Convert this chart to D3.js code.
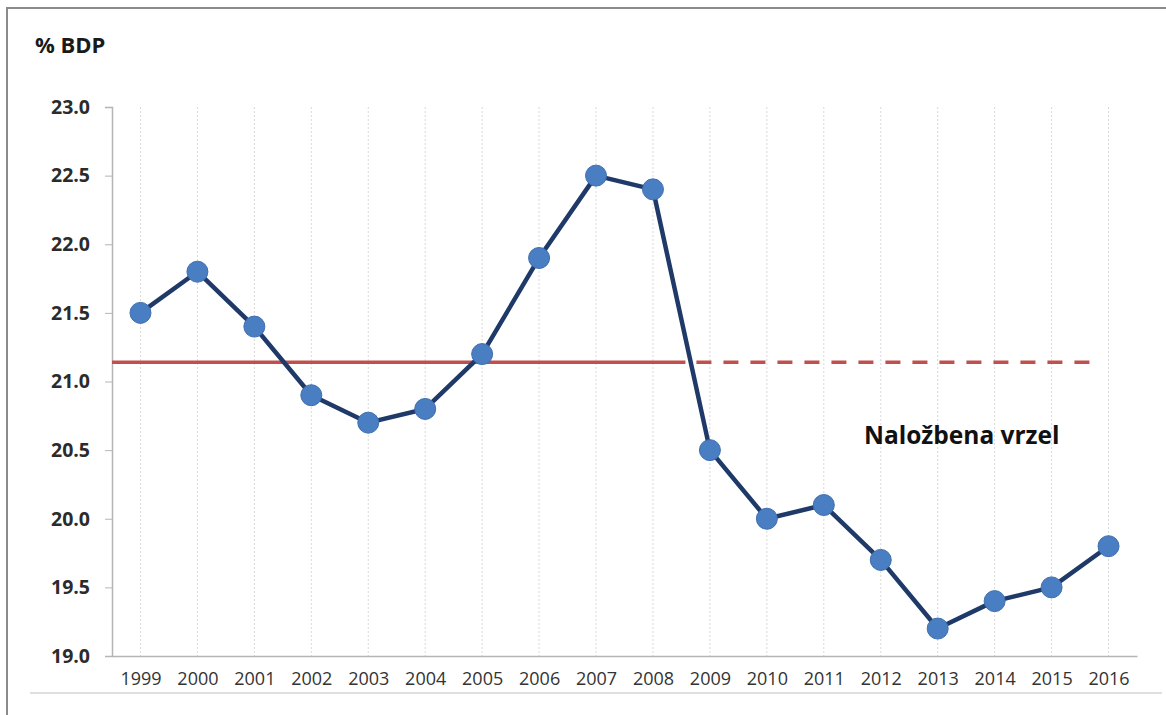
<!DOCTYPE html>
<html>
<head>
<meta charset="utf-8">
<script src="https://cdn.jsdelivr.net/npm/d3@7"></script>
<style>
  html, body { margin: 0; padding: 0; background: #fff; }
  svg { display: block; }
</style>
</head>
<body>
<div id="chart"></div>
<script>
const years = ["1999", "2000", "2001", "2002", "2003", "2004", "2005", "2006", "2007",
    "2008", "2009", "2010", "2011", "2012", "2013", "2014", "2015", "2016"];
const investment = [21.5, 21.8, 21.4, 20.9, 20.7, 20.8, 21.2, 21.9, 22.5,
    22.4, 20.5, 20.0, 20.1, 19.7, 19.2, 19.4, 19.5, 19.8];
const yTicks = [19.0, 19.5, 20.0, 20.5, 21.0, 21.5, 22.0, 22.5, 23.0];
const averageLevel = 21.14;
const yAxisTitle = "% BDP";
const gapLabel = "Naložbena vrzel";

const width = 1166, height = 715;
const plot = { left: 112, right: 1137, top: 107, bottom: 656 };

const svg = d3.select("#chart")
    .append("svg")
    .attr("width", width)
    .attr("height", height);

// frame
svg.append("path")
    .attr("d", `M7,${height} L7,8 L${width},8`)
    .attr("fill", "none")
    .attr("stroke", "#8a8a8a")
    .attr("stroke-width", 2);

// scales
const xScale = d3.scalePoint()
    .domain(years)
    .range([plot.left, plot.right])
    .padding(0.5);

const yScale = d3.scaleLinear()
    .domain([19, 23])
    .range([plot.bottom, plot.top]);

// vertical dotted gridlines
svg.append("g")
    .selectAll("line")
    .data(years)
    .join("line")
    .attr("x1", d => xScale(d))
    .attr("x2", d => xScale(d))
    .attr("y1", plot.top)
    .attr("y2", plot.bottom)
    .attr("stroke", "#d9d9d9")
    .attr("stroke-width", 1)
    .attr("stroke-dasharray", "2,2");

// y-axis
const yAxis = svg.append("g")
    .attr("transform", `translate(${plot.left},0)`)
    .call(d3.axisLeft(yScale).tickValues(yTicks).tickFormat(d3.format(".1f")).tickSize(7).tickPadding(15));
yAxis.select(".domain").attr("stroke", "#b5b5b5").attr("stroke-width", 1.5);
yAxis.selectAll(".tick line").attr("stroke", "#b5b5b5");
yAxis.selectAll(".tick text")
    .attr("fill", "#2b2b2b")
    .attr("font-family", "'Open Sans', sans-serif")
    .attr("font-weight", 700)
    .attr("font-size", "19.5px");

// x-axis
const xAxis = svg.append("g")
    .attr("transform", `translate(0,${plot.bottom})`)
    .call(d3.axisBottom(xScale).tickSize(0).tickPadding(16));
xAxis.select(".domain").attr("stroke", "#b5b5b5").attr("stroke-width", 1.5);
xAxis.selectAll(".tick text")
    .attr("fill", "#333")
    .attr("font-family", "'Open Sans', sans-serif")
    .attr("font-size", "18px");

// light rule below the year labels
svg.append("line")
    .attr("x1", 30)
    .attr("x2", 1162)
    .attr("y1", 693)
    .attr("y2", 693)
    .attr("stroke", "#d4d4d4")
    .attr("stroke-width", 1.5);

// average line: solid up to the crisis, dashed afterwards
const step = xScale.step();
const splitX = xScale("2008") + step * 0.57;
const avgY = yScale(averageLevel);

svg.append("line")
    .attr("x1", plot.left)
    .attr("x2", splitX)
    .attr("y1", avgY)
    .attr("y2", avgY)
    .attr("stroke", "#c0504d")
    .attr("stroke-width", 3.5);

svg.append("line")
    .attr("x1", splitX + 11)
    .attr("x2", xScale("2016") - 8)
    .attr("y1", avgY)
    .attr("y2", avgY)
    .attr("stroke", "#c0504d")
    .attr("stroke-width", 3.5)
    .attr("stroke-dasharray", "15,12");

// series line
const data = years.map((y, i) => ({ year: y, value: investment[i] }));

svg.append("path")
    .datum(data)
    .attr("d", d3.line().x(d => xScale(d.year)).y(d => yScale(d.value)))
    .attr("fill", "none")
    .attr("stroke", "#1f3a68")
    .attr("stroke-width", 4.5)
    .attr("stroke-linejoin", "round");

// markers
svg.append("g")
    .selectAll("circle")
    .data(data)
    .join("circle")
    .attr("cx", d => xScale(d.year))
    .attr("cy", d => yScale(d.value))
    .attr("r", 10.5)
    .attr("fill", "#4a7ec2")
    .attr("stroke", "#3f6fae")
    .attr("stroke-width", 1);

// y title
svg.append("text")
    .attr("x", 35)
    .attr("y", 53)
    .attr("font-family", "'Open Sans', sans-serif")
    .attr("font-weight", 700)
    .attr("font-size", "22px")
    .attr("fill", "#1a1a1a")
    .text(yAxisTitle);

// annotation
svg.append("text")
    .attr("x", 864)
    .attr("y", 444)
    .attr("font-family", "'Open Sans', sans-serif")
    .attr("font-weight", 700)
    .attr("font-size", "24.5px")
    .attr("fill", "#111")
    .text(gapLabel);
</script>
</body>
</html>
